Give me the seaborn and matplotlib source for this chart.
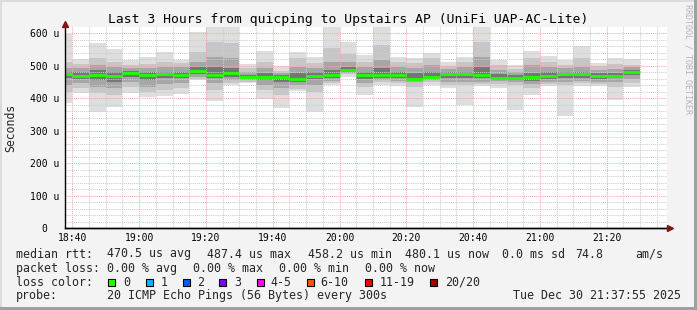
import numpy as np
import pandas as pd
import matplotlib
matplotlib.use("Agg")
import matplotlib.pyplot as plt
import matplotlib.patches as mpatches
from matplotlib.ticker import MultipleLocator, FixedLocator
import seaborn as sns

# ---------------- data (microseconds) ----------------
slot_start = pd.date_range("2025-12-30 18:35", periods=35, freq="5min")
graph_end = pd.Timestamp("2025-12-30 21:37:55")

rtt_median = [476, 468.6, 471.7, 468.6, 478, 472.6, 475, 471.7, 484, 471.7,
              478, 465.5, 464.6, 464.6, 458.2, 469.5, 471.7, 487.4, 471.7, 471.7,
              471.7, 459.4, 466.5, 475, 475, 471.7, 463.4, 463.4, 465.5, 468.6,
              475, 475, 469.5, 469.5, 480.1]
rtt_max = [597, 520, 571, 552, 517, 527, 543, 519, 603, 625,
           625, 505, 545, 500, 542, 528, 625, 573, 533, 625,
           527, 525, 540, 513, 527, 625, 517, 502, 545, 530,
           519, 561, 508, 523, 520]
rtt_min = [386, 416, 359, 374, 417, 405, 408, 414, 456, 393,
           440, 447, 398, 371, 422, 357, 440, 466, 410, 442,
           439, 374, 440, 431, 379, 439, 431, 364, 410, 438,
           346, 439, 439, 396, 436]
rtt_hi1 = [513, 505, 523, 513, 502, 505, 513, 508, 544, 574,
           569, 492, 513, 484, 523, 508, 554, 536, 513, 564,
           513, 508, 523, 500, 513, 574, 502, 490, 523, 513,
           502, 523, 500, 505, 502]
rtt_lo1 = [420, 431, 415, 410, 436, 420, 426, 431, 459, 426,
           446, 451, 426, 410, 428, 420, 446, 474, 436, 449,
           446, 436, 449, 441, 441, 443, 443, 441, 431, 445,
           441, 446, 444, 436, 446]
rtt_hi2 = [492, 492, 502, 497, 492, 492, 497, 495, 513, 528,
           523, 482, 492, 477, 497, 492, 513, 513, 497, 518,
           497, 492, 502, 490, 497, 528, 487, 482, 502, 495,
           492, 497, 487, 490, 495]
rtt_lo2 = [441, 446, 436, 431, 451, 436, 443, 446, 466, 446,
           456, 456, 441, 431, 441, 441, 453, 477, 446, 456,
           453, 451, 456, 451, 451, 451, 453, 449, 443, 451,
           449, 453, 451, 449, 459]
rtt_hi3 = [482, 482, 487, 482, 484, 480, 482, 482, 497, 497,
           492, 472, 477, 472, 477, 480, 487, 497, 482, 492,
           482, 477, 482, 480, 482, 497, 474, 472, 477, 480,
           482, 482, 477, 477, 487]
rtt_lo3 = [461, 459, 456, 451, 467, 456, 461, 461, 474, 461,
           467, 461, 456, 451, 451, 459, 464, 482, 459, 464,
           464, 456, 461, 461, 461, 461, 459, 456, 453, 459,
           461, 461, 459, 461, 472]

y_ticks = [0, 100, 200, 300, 400, 500, 600]
y_tick_labels = ["0  ", "100 u", "200 u", "300 u", "400 u", "500 u", "600 u"]
x_tick_labels = ["18:40", "19:00", "19:20", "19:40", "20:00",
                 "20:20", "20:40", "21:00", "21:20"]

stats_rtt = ["470.5 us avg", "487.4 us max", "458.2 us min", "480.1 us now",
             "0.0 ms sd", "74.8", "am/s"]
stats_loss = ["0.00 % avg", "0.00 % max", "0.00 % min", "0.00 % now"]
loss_labels = ["0", "1", "2", "3", "4-5", "6-10", "11-19", "20/20"]
loss_colors = ["#26ff00", "#00b8ff", "#0059ff", "#7e00ff",
               "#ff00ff", "#ff5500", "#ff0000", "#a00000"]
title = "Last 3 Hours from quicping to Upstairs AP (UniFi UAP-AC-Lite)"
probe_text = "20 ICMP Echo Pings (56 Bytes) every 300s"
stamp_text = "Tue Dec 30 21:37:55 2025"

# ---------------- style ----------------
sns.set_style("white")
plt.rcParams["font.family"] = ["DejaVu Sans Mono"]

W, H = 697, 310
fig = plt.figure(figsize=(W / 100, H / 100), dpi=100, facecolor="#f3f3f3")

# frame
fig.patches.append(mpatches.Rectangle((0, 1 - 2 / H), 1, 2 / H, transform=fig.transFigure,
                                      color="#dcdcdc", lw=0, zorder=0))
fig.patches.append(mpatches.Rectangle((0, 0), 2 / W, 1, transform=fig.transFigure,
                                      color="#dcdcdc", lw=0, zorder=0))
fig.patches.append(mpatches.Rectangle((0, 0), 1, 3 / H, transform=fig.transFigure,
                                      color="#a0a0a0", lw=0, zorder=0))
fig.patches.append(mpatches.Rectangle((1 - 3 / W, 0), 3 / W, 1, transform=fig.transFigure,
                                      color="#a0a0a0", lw=0, zorder=0))

ax = fig.add_axes([65.4 / W, 1 - 228.3 / H, 601.2 / W, 200.85 / H])
ax.set_facecolor("white")

t0 = pd.Timestamp("2025-12-30 00:00")
start_min = np.asarray((slot_start - t0).total_seconds() / 60.0)
end_min = (graph_end - t0).total_seconds() / 60.0

# smoke layers
layers = [(rtt_min, rtt_max, "#dedede"),
          (rtt_lo1, rtt_hi1, "#c6c6c6"),
          (rtt_lo2, rtt_hi2, "#a6a6a6"),
          (rtt_lo3, rtt_hi3, "#767676")]
for lo, hi, col in layers:
    lo = np.asarray(lo, float)
    hi = np.asarray(hi, float)
    ax.bar(start_min, hi - lo, bottom=lo, width=5, align="edge",
           color=col, linewidth=0, zorder=1)

# median segments
df_med = pd.DataFrame({
    "t": np.concatenate([start_min, start_min + 5]),
    "rtt": list(rtt_median) * 2,
    "slot": list(range(len(rtt_median))) * 2,
})
sns.lineplot(data=df_med, x="t", y="rtt", units="slot", estimator=None,
             color="#1eff00", linewidth=2.0, ax=ax, legend=False, zorder=4,
             solid_capstyle="butt")

ax.set_xlim(end_min - 180, end_min)
ax.set_ylim(0, 618)

major_x = [int(s[:2]) * 60 + int(s[3:]) for s in x_tick_labels]
ax.xaxis.set_major_locator(FixedLocator(major_x))
ax.set_xticklabels(x_tick_labels)
ax.xaxis.set_minor_locator(MultipleLocator(5))
ax.yaxis.set_major_locator(FixedLocator(y_ticks))
ax.set_yticklabels(y_tick_labels)
ax.yaxis.set_minor_locator(MultipleLocator(20))

ax.grid(which="minor", color="#cccccc", linestyle=(0, (1, 1)), linewidth=0.75)
ax.grid(which="major", color="#f2a8a8", linestyle=(0, (1, 1)), linewidth=0.75)
ax.set_axisbelow(False)

for side in ["top", "right"]:
    ax.spines[side].set_visible(False)
for side in ["left", "bottom"]:
    ax.spines[side].set_color("black")
    ax.spines[side].set_linewidth(1.0)
    ax.spines[side].set_zorder(5)

ax.tick_params(axis="both", which="major", direction="out", length=2.5, width=0.8,
               color="black", labelsize=7, labelcolor="#000000")
ax.tick_params(axis="y", which="major", pad=2)
ax.tick_params(axis="x", which="major", pad=1)
ax.tick_params(axis="both", which="minor", length=0)
ax.set_xlabel("")
ax.set_ylabel("")

# axis arrows
ax.plot([0], [1.017], marker="^", color="#8b1010", ms=5, transform=ax.transAxes,
        clip_on=False, zorder=6)
ax.plot([0, 1.004], [0, 0], color="black", lw=1.0, transform=ax.transAxes,
        clip_on=False, zorder=5)
ax.plot([1.006], [0], marker=">", color="#8b1010", ms=5, transform=ax.transAxes,
        clip_on=False, zorder=6)

# texts
def ftext(x, y, s, **kw):
    fig.text(x / W, 1 - y / H, s, **kw)

ftext(348, 19, title, ha="center", va="center", fontsize=9.4, color="#000000")
ftext(11, 128, "Seconds", ha="center", va="center", rotation=90, fontsize=8.3)
ftext(688, 59, "RRDTOOL / TOBI OETIKER", ha="center", va="center", rotation=270,
      fontsize=6, color="#b4b4b4")

fs = 8.35
r1, r2, r3, r4 = 254, 268.3, 282.3, 295.7
ftext(16, r1, "median rtt:", va="center", fontsize=fs)
for x, s in zip([107.3, 207.3, 308, 405, 502, 575, 635], stats_rtt):
    ftext(x, r1, s, va="center", fontsize=fs)
ftext(16, r2, "packet loss:", va="center", fontsize=fs)
for x, s in zip([107.3, 193.3, 279.3, 365], stats_loss):
    ftext(x, r2, s, va="center", fontsize=fs)
ftext(16, r3, "loss color:", va="center", fontsize=fs)
box_x = [108.3, 145.7, 182.7, 219.3, 256.7, 306.7, 365, 430]
lab_x = [123.3, 160.7, 197.3, 234, 270.7, 320.7, 380, 445]
for bx, lx, lab, col in zip(box_x, lab_x, loss_labels, loss_colors):
    fig.patches.append(mpatches.Rectangle((bx / W, 1 - (r3 + 3.8) / H), 7 / W, 7.5 / H,
                                          transform=fig.transFigure, facecolor=col,
                                          edgecolor="black", lw=0.8, zorder=3))
    ftext(lx, r3, lab, va="center", fontsize=fs)
ftext(16, r4, "probe:", va="center", fontsize=fs)
ftext(107.3, r4, probe_text, va="center", fontsize=fs)
ftext(513.3, r4, stamp_text, va="center", fontsize=fs)

fig.savefig("out.png", dpi=100, facecolor=fig.get_facecolor())
